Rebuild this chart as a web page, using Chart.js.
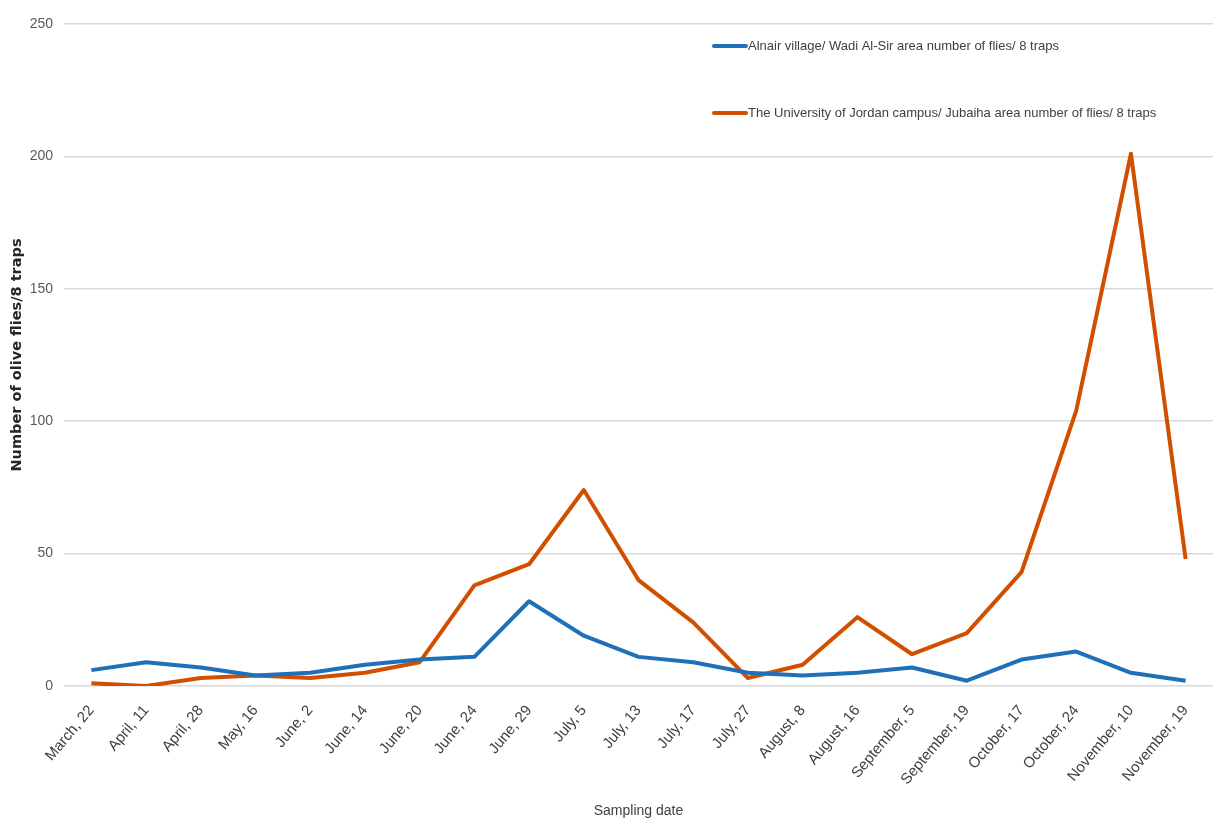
<!DOCTYPE html>
<html>
<head>
<meta charset="utf-8">
<script src="https://cdn.jsdelivr.net/npm/chart.js@4.4.1/dist/chart.umd.min.js"></script>
<style>
  html,body{margin:0;padding:0;background:#fff;}
  #wrap{width:1213px;height:820px;position:relative;}
</style>
</head>
<body>
<div id="wrap"><canvas id="chart"></canvas></div>
<script>
// sampling dates
const dates=["March, 22","April, 11","April, 28","May, 16","June, 2","June, 14","June, 20","June, 24","June, 29","July, 5","July, 13","July, 17","July, 27","August, 8","August, 16","September, 5","September, 19","October, 17","October, 24","November, 10","November, 19"];
const alnairLabel="Alnair village/ Wadi Al-Sir area number of flies/ 8 traps";
const alnair=[6,9,7,4,5,8,10,11,32,19,11,9,5,4,5,7,2,10,13,5,2];
const jordanLabel="The University of Jordan campus/ Jubaiha area number of flies/ 8 traps";
const jordan=[1,0,3,4,3,5,9,38,46,74,40,24,3,8,26,12,20,43,104,201,48];
const yTicks=[0,50,100,150,200,250];

const txtFont="'Liberation Sans', sans-serif";

// legend drawn inside the plot, like the original
const innerLegend={
    id:"innerLegend",
    afterDraw(chart){
        const ctx=chart.ctx;
        const rows=[46,113];
        ctx.save();
        chart.data.datasets.forEach((ds,i)=>{
            let y=rows[i];
            ctx.strokeStyle=ds.borderColor;
            ctx.lineWidth=4;
            ctx.lineCap="round";
            ctx.beginPath();
            ctx.moveTo(714,y);
            ctx.lineTo(746,y);
            ctx.stroke();
            ctx.fillStyle="#404040";
            ctx.font="13px "+txtFont;
            ctx.textBaseline="middle";
            ctx.textAlign="left";
            ctx.fillText(ds.label,748,y);
        });
        ctx.restore();
    }
};

const ctx=document.getElementById("chart").getContext("2d");
const myChart=new Chart(ctx,{
    type:"line",
    data:{
        labels:dates,
        datasets:[{
            label:alnairLabel,
            data:alnair,
            borderColor:"#1f6fb9",
            borderWidth:4,
            borderJoinStyle:"round",
            pointRadius:0,
            tension:0
        },{
            label:jordanLabel,
            data:jordan,
            borderColor:"#d24f00",
            borderWidth:4,
            borderJoinStyle:"round",
            pointRadius:0,
            tension:0
        }]
    },
    options:{
        responsive:true,
        maintainAspectRatio:false,
        animation:false,
        layout:{padding:{top:24,right:-13,left:0,bottom:0}},
        plugins:{
            legend:{display:false},
            tooltip:{enabled:false}
        },
        scales:{
            x:{
                offset:true,
                grid:{display:false},
                border:{display:false},
                ticks:{
                    color:"#404040",
                    font:{family:txtFont,size:15},
                    maxRotation:50,
                    minRotation:50,
                    padding:8,
                    autoSkip:false
                },
                title:{
                    display:true,
                    text:"Sampling date",
                    color:"#404040",
                    font:{family:txtFont,size:14},
                    padding:{top:4,bottom:0}
                },
                afterFit(s){ s.height=134; }
            },
            y:{
                min:0,
                max:250,
                afterBuildTicks(s){ s.ticks=yTicks.map(v=>({value:v})); },
                grid:{color:"#d9d9d9",lineWidth:1.5,drawTicks:false},
                border:{display:false},
                ticks:{
                    color:"#595959",
                    font:{family:txtFont,size:14},
                    padding:11
                },
                title:{
                    display:true,
                    text:"Number of olive flies/8 traps",
                    color:"#262626",
                    font:{family:"'DejaVu Sans', sans-serif",size:14.5,weight:"bold"},
                    padding:{top:9,bottom:4}
                },
                afterFit(s){ s.width=64; }
            }
        }
    },
    plugins:[innerLegend]
});
</script>
</body>
</html>
